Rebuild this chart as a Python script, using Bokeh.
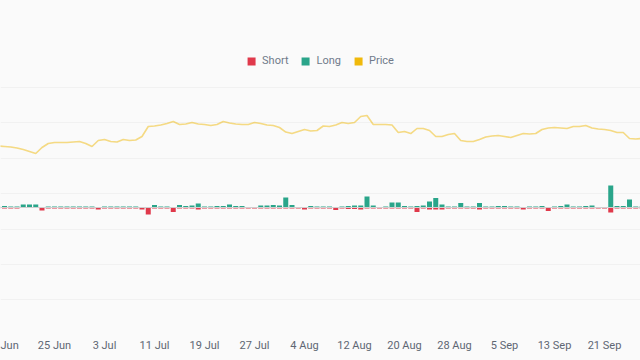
from datetime import datetime, timedelta
from bokeh.plotting import figure
from bokeh.models import (ColumnDataSource, Range1d, LinearAxis, Legend, LegendItem,
                          FixedTicker, Span, Grid)
from bokeh.embed import file_html
from bokeh.resources import INLINE

# ---------------- data ----------------
start_date = "2023-06-16"
price = [1867.4, 1866.7, 1866.0, 1864.5, 1862.4, 1859.6, 1856.8, 1865.3, 1870.9, 1872.3,
         1872.3, 1872.3, 1873.0, 1873.7, 1870.9, 1866.7, 1875.1, 1876.6, 1873.7, 1873.0,
         1876.6, 1875.1, 1875.8, 1880.8, 1894.9, 1895.6, 1897.0, 1899.2, 1902.0, 1897.7,
         1898.4, 1900.6, 1898.4, 1897.7, 1896.3, 1897.7, 1902.0, 1899.9, 1898.4, 1897.7,
         1897.7, 1900.6, 1899.2, 1897.0, 1896.3, 1893.5, 1887.1, 1885.0, 1887.9, 1890.7,
         1888.6, 1889.3, 1895.6, 1894.9, 1897.0, 1900.6, 1899.2, 1900.6, 1909.0, 1910.5,
         1897.7, 1897.7, 1897.7, 1897.0, 1886.4, 1887.9, 1885.0, 1892.1, 1892.1, 1889.3,
         1880.8, 1880.8, 1883.6, 1885.0, 1875.1, 1873.7, 1873.7, 1876.6, 1880.1, 1881.5,
         1882.2, 1880.8, 1879.4, 1882.2, 1885.0, 1884.3, 1885.0, 1890.7, 1892.8, 1893.5,
         1892.8, 1892.1, 1894.9, 1894.9, 1896.3, 1892.8, 1891.4, 1890.7, 1889.3, 1886.4,
         1886.4, 1878.0, 1877.3, 1878.0]
long_vals = [1, 1.5, 1, 1, 3, 3, 3, 0.5, 1, 1,
             1, 1, 1, 1, 1, 1, 0.5, 1, 1, 1,
             1, 1, 1, 0.5, 0.5, 2.5, 1, 1, 0.5, 2.5,
             1.5, 2, 4, 1, 1, 1.5, 1.5, 3, 1.5, 1.5,
             0.5, 0.5, 2, 2, 2.5, 2, 10, 2.5, 0.5, 0.5,
             1.5, 1, 1, 1, 0.5, 1, 1.5, 2, 2, 11,
             2, 0.5, 1, 5, 5, 1.5, 1, 1.5, 2, 6,
             9.5, 3, 1, 1, 4.5, 1, 1, 4.5, 1, 1,
             1.5, 1.5, 1, 1, 0.5, 1, 1, 1.5, 0.5, 1,
             1.5, 3, 1, 1, 1.5, 2, 0.5, 0.5, 22, 1.5,
             1.5, 8, 1, 1]
short_vals = [1, 1, 1, 1, 0.5, 0.5, 0.5, 3, 1, 1,
              1, 1, 1, 1, 1, 1, 2, 1, 1, 1,
              1, 1, 1, 2, 7, 1, 1, 1, 4.5, 1,
              1, 1, 2, 1, 1, 1, 1, 1, 1, 1,
              1, 1, 1, 1, 1, 1, 1, 1, 1, 2,
              1, 1, 1, 1, 2.5, 1, 1.5, 1.5, 2, 1,
              1, 1, 1, 1, 1, 1, 1, 4.5, 1, 2,
              2, 2, 1, 1, 1, 1, 1, 2, 1, 1,
              1, 1, 1, 1, 2, 1, 1, 1, 3.5, 1,
              1, 1, 1, 1, 1, 1, 1, 1, 5, 1,
              1, 1, 1, 1]
tick_dates = ["2023-06-17", "2023-06-25", "2023-07-03", "2023-07-11", "2023-07-19",
              "2023-07-27", "2023-08-04", "2023-08-12", "2023-08-20", "2023-08-28",
              "2023-09-05", "2023-09-13", "2023-09-21", "2023-09-29"]
# first label is cut off at the chart's left edge in the original
tick_labels = ["Jun", "25 Jun", "3 Jul", "11 Jul", "19 Jul", "27 Jul", "4 Aug",
               "12 Aug", "20 Aug", "28 Aug", "5 Sep", "13 Sep", "21 Sep", "29 Sep"]
price_grid = [1650, 1700, 1750, 1800, 1850, 1900, 1950]

# ---------------- build ----------------
d0 = datetime.strptime(start_date, "%Y-%m-%d")
dates = [d0 + timedelta(days=i) for i in range(len(price))]
src = ColumnDataSource(dict(
    date=dates, price=price, long=long_vals,
    short=[-v for v in short_vals]))

BG = "#fafafa"
FONT = "Roboto"
t0 = datetime(2023, 6, 17)
p = figure(width=640, height=360, output_backend="svg", toolbar_location=None,
           x_axis_type="datetime",
           x_range=Range1d(t0 + timedelta(days=-0.64), t0 + timedelta(days=101.76)),
           y_range=Range1d(-121, 207),
           min_border_left=0, min_border_right=0, min_border_top=0, min_border_bottom=32,
           background_fill_color=BG, border_fill_color=BG, outline_line_color=None)
p.extra_y_ranges = {"price": Range1d(1609.6, 2072.9)}

p.yaxis.visible = False
p.xgrid.visible = False
p.ygrid.visible = False

pax = LinearAxis(y_range_name="price", visible=False)
p.add_layout(pax, "right")
g = Grid(dimension=1, ticker=FixedTicker(ticks=price_grid), y_range_name="price",
         grid_line_color="#f1f1f1", grid_line_width=1)
p.add_layout(g)

ms = [int(datetime.strptime(s, "%Y-%m-%d").timestamp() * 1000) for s in tick_dates]
p.xaxis.ticker = FixedTicker(ticks=ms)
p.xaxis.major_label_overrides = {m: l for m, l in zip(ms, tick_labels)}
p.xaxis.axis_line_color = None
p.xaxis.major_tick_line_color = None
p.xaxis.minor_tick_line_color = None
p.xaxis.major_label_text_font = FONT
p.xaxis.major_label_text_font_size = "11px"
p.xaxis.major_label_text_color = "#5e6673"
p.xaxis.major_label_standoff = 4

p.add_layout(Span(location=0, dimension="width", line_color="#cfcfcf", line_width=1))

w = 0.8 * 86400000
RED = "#e0394b"
TEAL = "#2aa58a"
YEL = "#f0b90b"
r_short = p.vbar(x="date", top="short", bottom=0, width=w, source=src,
                 fill_color=RED, line_color=None)
r_long = p.vbar(x="date", top="long", bottom=0, width=w, source=src,
                fill_color=TEAL, line_color=None)
r_price = p.line(x="date", y="price", source=src, y_range_name="price",
                 line_color=YEL, line_alpha=0.5, line_width=1.6)
# zero-height bars: only used to give "Price" a square legend swatch
r_pswatch = p.vbar(x="date", top=0, bottom=0, width=w, source=src,
                   fill_color=YEL, line_color=None)

legend = Legend(items=[LegendItem(label="Short", renderers=[r_short]),
                       LegendItem(label="Long", renderers=[r_long]),
                       LegendItem(label="Price", renderers=[r_pswatch])],
                location="top_center", orientation="horizontal",
                margin=54, padding=0, spacing=12, label_standoff=6,
                glyph_width=10, glyph_height=10,
                label_text_font=FONT, label_text_font_size="11px",
                label_text_color="#707a8a",
                background_fill_alpha=0, border_line_color=None)
p.add_layout(legend)

html = file_html(p, INLINE)
html = html.replace("<head>", "<head><style>body{background:#fafafa}</style>", 1)
open("out.html", "w").write(html)
